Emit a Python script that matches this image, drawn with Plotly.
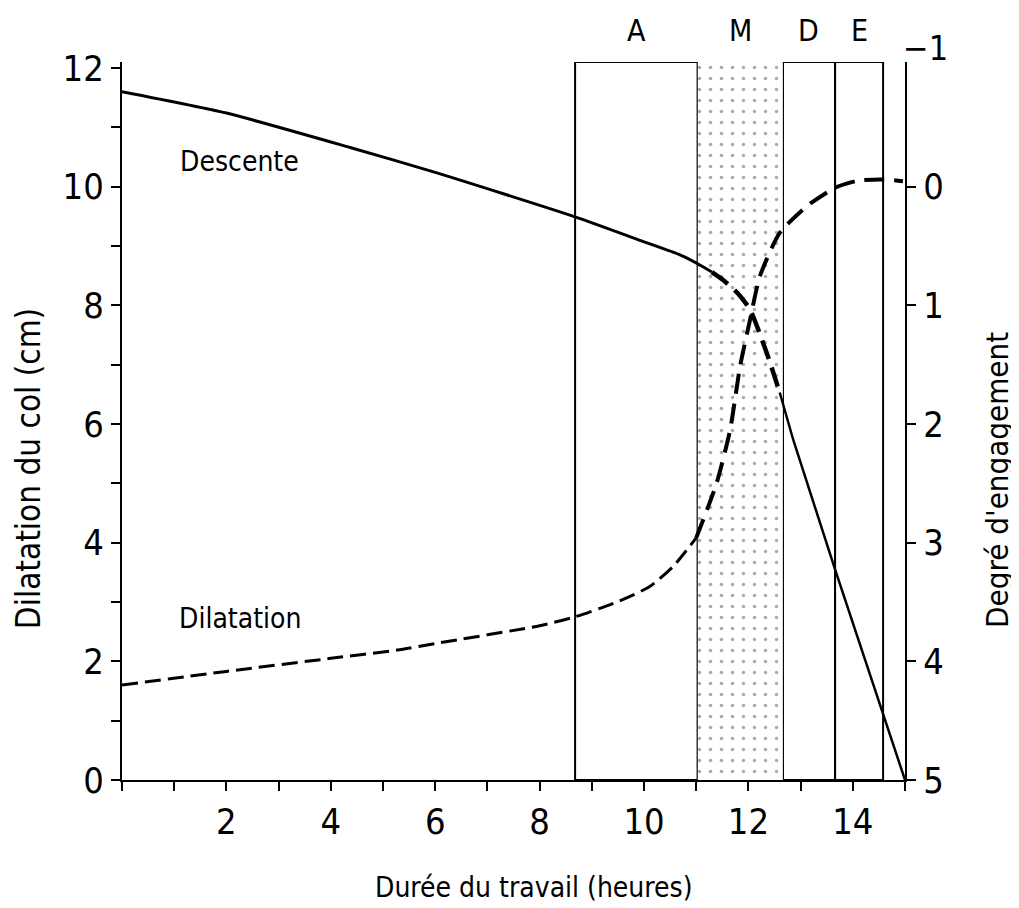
import plotly.graph_objects as go

# ---- data ----
descente_hours = [0, 2, 4.37, 6, 8.68, 10, 10.69, 11.07, 11.3]
descente_cm = [11.6, 11.24, 10.66, 10.24, 9.49, 9.07, 8.85, 8.68, 8.56]
descente_mid_hours = [11.3, 11.51, 11.8, 12.03, 12.35, 12.6]
descente_mid_cm = [8.56, 8.43, 8.2, 7.93, 7.2, 6.53]
descente_end_hours = [12.6, 12.86, 13.66, 14.58, 15]
descente_end_cm = [6.53, 5.73, 3.55, 1.1, 0]

dilat_hours = [0, 2, 4, 5.27, 6, 8, 8.68, 9.48, 10.11, 10.56, 11.0]
dilat_cm = [1.6, 1.83, 2.05, 2.19, 2.3, 2.6, 2.75, 3.0, 3.26, 3.6, 4.08]
dilat_fast_hours = [11.0, 11.39, 11.65, 11.84, 12.03, 12.22, 12.6, 13.12, 13.66, 14.1, 14.58, 14.96]
dilat_fast_cm = [4.08, 5.0, 5.9, 6.97, 7.75, 8.49, 9.22, 9.67, 9.98, 10.1, 10.12, 10.09]

phase_names = ["A", "M", "D", "E"]
phase_bounds = [8.68, 11.03, 12.66, 13.66, 14.58]
phase_top = 12.1

x_ticks = [2, 4, 6, 8, 10, 12, 14]
y_ticks = [0, 2, 4, 6, 8, 10, 12]
engagement_ticks = [0, 1, 2, 3, 4, 5]

FONT = "Liberation Sans Narrow, DejaVu Sans Condensed, Arial Narrow, sans-serif"

fig = go.Figure()

# stippled M phase
fig.add_trace(go.Scatter(
    x=[phase_bounds[1], phase_bounds[2], phase_bounds[2], phase_bounds[1], phase_bounds[1]],
    y=[0, 0, phase_top, phase_top, 0],
    fill="toself", mode="none", fillcolor="rgba(255,255,255,0)",
    fillpattern=dict(shape=".", fgcolor="#555555", bgcolor="white", size=11, solidity=0.08),
    hoverinfo="skip", showlegend=False))

# phase boxes
for i in range(len(phase_names)):
    fig.add_shape(type="rect", xref="x", yref="y",
                  x0=phase_bounds[i], x1=phase_bounds[i + 1], y0=0, y1=phase_top,
                  line=dict(color="black", width=2), layer="below")
    fig.add_annotation(x=(phase_bounds[i] + phase_bounds[i + 1]) / 2, y=1.044,
                       xref="x", yref="paper", xanchor="center", yanchor="middle",
                       text=phase_names[i], showarrow=False,
                       font=dict(family=FONT, size=30, color="black"))

line_black = "black"
fig.add_trace(go.Scatter(x=descente_hours, y=descente_cm, mode="lines",
                         line=dict(color=line_black, width=3, shape="spline", smoothing=0.6),
                         showlegend=False, hoverinfo="skip"))
fig.add_trace(go.Scatter(x=descente_mid_hours, y=descente_mid_cm, mode="lines",
                         line=dict(color=line_black, width=4.5, dash="20px,9px", shape="spline", smoothing=0.6),
                         showlegend=False, hoverinfo="skip"))
fig.add_trace(go.Scatter(x=descente_end_hours, y=descente_end_cm, mode="lines",
                         line=dict(color=line_black, width=2.5),
                         showlegend=False, hoverinfo="skip"))
fig.add_trace(go.Scatter(x=dilat_hours, y=dilat_cm, mode="lines",
                         line=dict(color=line_black, width=3, dash="16px,7px", shape="spline", smoothing=0.6),
                         showlegend=False, hoverinfo="skip"))
fig.add_trace(go.Scatter(x=dilat_fast_hours, y=dilat_fast_cm, mode="lines",
                         line=dict(color=line_black, width=4, dash="20px,10px", shape="spline", smoothing=0.6),
                         showlegend=False, hoverinfo="skip"))

# invisible trace to activate right axis
fig.add_trace(go.Scatter(x=[None], y=[None], yaxis="y2", showlegend=False))

fig.add_annotation(x=2.26, y=10.42, text="Descente", showarrow=False,
                   xanchor="center", yanchor="middle",
                   font=dict(family=FONT, size=28, color="black"))
fig.add_annotation(x=2.26, y=2.72, text="Dilatation", showarrow=False,
                   xanchor="center", yanchor="middle",
                   font=dict(family=FONT, size=28, color="black"))
fig.add_annotation(x=1.026, y=1.02, xref="paper", yref="paper",
                   xanchor="center", yanchor="middle",
                   text="−1", showarrow=False,
                   font=dict(family=FONT, size=34, color="black"))

# axis titles placed as annotations
fig.add_annotation(x=0.526, y=-0.150, xref="paper", yref="paper",
                   xanchor="center", yanchor="middle",
                   text="Durée du travail (heures)", showarrow=False,
                   font=dict(family=FONT, size=28, color="black"))
fig.add_annotation(x=-0.119, y=0.434, xref="paper", yref="paper", textangle=-90,
                   xanchor="center", yanchor="middle",
                   text="Dilatation du col (cm)", showarrow=False,
                   font=dict(family=FONT, size=33, color="black"))
fig.add_annotation(x=1.1175, y=0.418, xref="paper", yref="paper", textangle=-90,
                   xanchor="center", yanchor="middle",
                   text="Degré d'engagement", showarrow=False,
                   font=dict(family=FONT, size=31, color="black"))

# page body has an 8px margin: shift margins so the plot area lands in place
fig.update_layout(
    width=1019, height=908,
    margin=dict(l=114, r=122, t=54, b=136, autoexpand=False),
    plot_bgcolor="white", paper_bgcolor="white",
    font=dict(family=FONT, color="black", size=36),
    xaxis=dict(range=[0, 15], tickvals=x_ticks, ticks="outside", ticklen=9,
               tickwidth=2, tickcolor="black", showline=True, linecolor="black",
               linewidth=2, showgrid=False, zeroline=False,
               minor=dict(dtick=1, tick0=0, ticks="outside", ticklen=9, tickwidth=2,
                          tickcolor="black", showgrid=False),
               tickfont=dict(size=36)),
    yaxis=dict(range=[0, phase_top], tickvals=y_ticks, ticks="outside", ticklen=9,
               tickwidth=2, tickcolor="black", showline=True, linecolor="black",
               linewidth=2, showgrid=False, zeroline=False,
               minor=dict(dtick=1, tick0=0, ticks="outside", ticklen=9, tickwidth=2,
                          tickcolor="black", showgrid=False),
               tickfont=dict(size=36)),
    yaxis2=dict(overlaying="y", side="right", anchor="x",
                range=[5, 5 - phase_top / 2], tickvals=engagement_ticks,
                ticks="outside", ticklen=9, tickwidth=2, tickcolor="black",
                showline=True, linecolor="black", linewidth=2, showgrid=False,
                zeroline=False, tickfont=dict(size=36)),
)

fig.write_html("out.html")
